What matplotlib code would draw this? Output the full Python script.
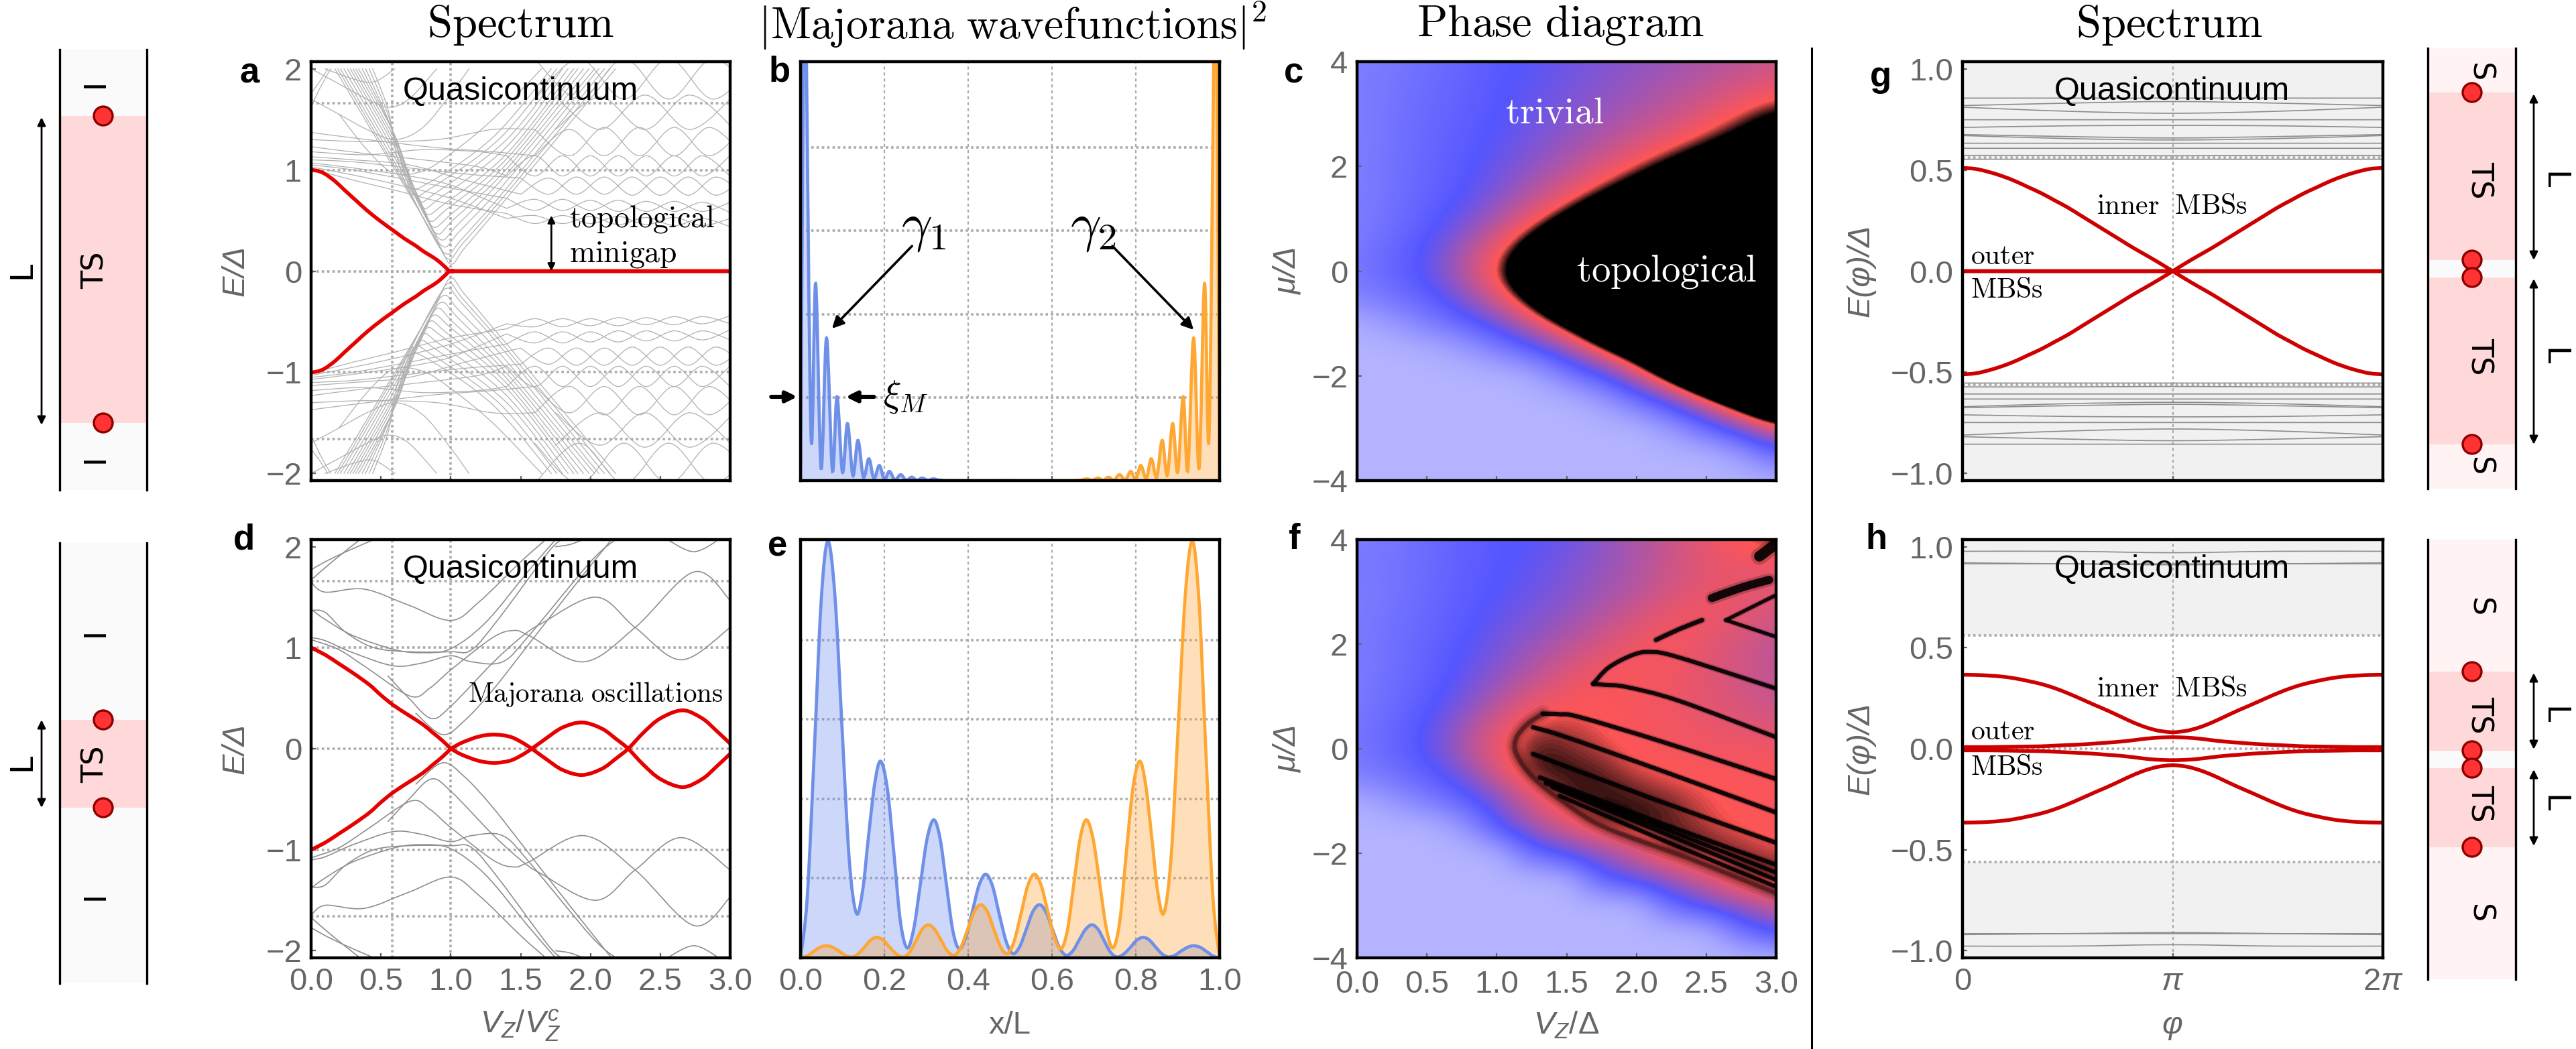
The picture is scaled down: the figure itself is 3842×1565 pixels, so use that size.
import numpy as np
import matplotlib
matplotlib.use('Agg')
import matplotlib.pyplot as plt
from matplotlib.colors import LinearSegmentedColormap
from matplotlib.patches import Rectangle, Circle, PathPatch
from matplotlib.path import Path

W, H = 3842, 1565
plt.rcParams['font.family'] = ['Liberation Sans', 'DejaVu Sans']
plt.rcParams['mathtext.fontset'] = 'custom'
plt.rcParams['mathtext.it'] = 'Liberation Sans:italic'
plt.rcParams['mathtext.rm'] = 'Liberation Sans'

# ---------- panel a (upper half, mirrored for E<0) ----------
a_red_V = [0, .05, .1, .17, .24, .32, .4, .5, .59, .67, .75, .81, .87, .92, .96, 1, 1.1, 2, 3]
a_red_E = [1, .99, .96, .89, .8, .70, .60, .49, .40, .32, .25, .19, .14, .09, .04, 0, 0, 0, 0]
a_fan = [
    [(.17, 2), (.6, 1.0), (.9, .3), (1, .07), (1.1, .23), (1.4, .72), (2.18, 2)],
    [(.19, 2), (.6, 1.03), (.88, .34), (.985, .12), (1.09, .28), (1.4, .77), (2.14, 2)],
    [(.21, 2), (.6, 1.07), (.85, .4), (.97, .17), (1.08, .32), (1.4, .82), (2.10, 2)],
    [(.235, 2), (.6, 1.12), (.84, .48), (.95, .24), (1.06, .39), (1.4, .89), (2.06, 2)],
    [(.26, 2), (.6, 1.17), (.82, .56), (.93, .31), (1.05, .46), (1.4, .96), (2.03, 2)],
    [(.28, 2), (.6, 1.22), (.8, .64), (.90, .37), (1.02, .51), (1.4, 1.01), (1.99, 2)],
    [(.30, 2), (.6, 1.26), (.77, .72), (.87, .44), (1.0, .56), (1.4, 1.06), (1.95, 2)],
    [(.32, 2), (.6, 1.3), (.75, .78), (.845, .5), (.97, .61), (1.4, 1.11), (1.91, 2)],
    [(.34, 2), (.6, 1.34), (.72, .85), (.82, .57), (.95, .66), (1.4, 1.16), (1.88, 2)],
    [(.365, 2), (.58, 1.4), (.7, .92), (.795, .63), (.92, .72), (1.4, 1.23), (1.84, 2)],
    [(.39, 2), (.55, 1.5), (.67, 1.0), (.77, .70), (.9, .78), (1.4, 1.3), (1.8, 2)],
    [(.415, 2), (.55, 1.55), (.65, 1.05), (.735, .76), (.87, .83), (1.35, 1.31), (1.76, 2)],
    [(.44, 2), (.55, 1.6), (.62, 1.1), (.70, .83), (.85, .88), (1.3, 1.32), (1.72, 2)],
    [(.2, 1.55), (.4, 1.2), (.59, .97), (.8, .99), (1.0, 1.16), (1.3, 1.5), (1.65, 2)],
    [(0, 1.7), (.2, 1.55), (.4, 1.4), (.6, 1.3), (.8, 1.42), (1.0, 1.75), (1.13, 2)],
    [(0, 2.0), (.2, 1.85), (.4, 1.7), (.55, 1.62), (.7, 1.7), (.9, 2.0)],
    [(.1, 2), (.3, 1.9), (.45, 1.87), (.6, 2.0)],
    [(0, 1.76), (.05, 1.85), (.12, 2.0)],
    [(0, 1.62), (.06, 1.8), (.14, 2.0)],
    [(0, 1.01), (.3, .9), (.6, .8), (1, .66), (1.4, .57)],
    [(0, 1.03), (.3, .95), (.6, .86), (1, .72), (1.4, .52)],
    [(0, 1.05), (.3, 1.0), (.7, .9), (1, .82), (1.4, .72)],
    [(0, 1.07), (.3, 1.02), (.7, .94), (1, .85), (1.4, .62)],
    [(0, 1.1), (.3, 1.08), (.7, 1.02), (1.1, .96), (1.5, .92)],
    [(0, 1.13), (.3, 1.1), (.7, 1.05), (1.1, .9), (1.5, .76)],
    [(0, 1.18), (.4, 1.15), (.8, 1.2), (1.2, 1.18), (1.4, 1.14)],
    [(0, 1.23), (.4, 1.16), (.8, 1.1), (1.2, 1.03), (1.4, .94)],
    [(0, 1.3), (.4, 1.28), (.9, 1.3), (1.3, 1.4), (1.6, 1.40)],
    [(0, 1.37), (.4, 1.3), (.9, 1.22), (1.3, 1.18), (1.6, 1.14)],
]
dx1 = [1.4, 1.6, 1.8, 2.0, 2.2, 2.4, 2.6, 2.8, 3.0]
dx2 = [1.5, 1.7, 1.9, 2.1, 2.3, 2.5, 2.7, 2.9, 3.1]
dx3 = [1.6, 1.85, 2.1, 2.35, 2.6, 2.85, 3.1]
dx4 = [1.75, 2.07, 2.39, 2.71, 3.03]
dx5 = [1.6, 1.92, 2.24, 2.56, 2.88, 3.2]
a_diamonds = [
    (dx1, [.57, .47, .55, .47, .54, .46, .53, .45, .52]),
    (dx1, [.52, .55, .47, .54, .46, .53, .45, .52, .44]),
    (dx1, [.72, .60, .71, .60, .70, .59, .69, .59, .68]),
    (dx1, [.62, .71, .60, .70, .59, .69, .59, .68, .58]),
    (dx2, [.92, .76, .93, .76, .93, .75, .93, .75, .93]),
    (dx2, [.76, .92, .76, .93, .75, .93, .75, .93, .75]),
    (dx1, [1.14, .94, 1.14, .94, 1.14, .94, 1.14, .94, 1.14]),
    (dx1, [.94, 1.14, .94, 1.14, .94, 1.14, .94, 1.14, .94]),
    (dx3, [1.40, 1.14, 1.42, 1.14, 1.42, 1.14, 1.42]),
    (dx3, [1.14, 1.40, 1.14, 1.42, 1.14, 1.42, 1.14]),
    (dx4, [1.72, 1.40, 1.74, 1.40, 1.74]),
    (dx4, [1.40, 1.72, 1.40, 1.74, 1.40]),
    (dx5, [2.1, 1.7, 2.1, 1.7, 2.1, 1.7]),
    (dx5, [1.7, 2.1, 1.7, 2.1, 1.7, 2.1]),
]

# ---------- panel d ----------
d_red_left_V = [0, .1, .2, .31, .42, .5, .59, .7, .8, .87, .94, 1]
d_red_left_E = [1, .93, .84, .74, .63, .53, .43, .33, .24, .16, .08, 0]
d_red_V = [1, 1.08, 1.2, 1.31, 1.42, 1.5, 1.58, 1.68, 1.8, 1.94, 2.08, 2.18, 2.27, 2.38, 2.5, 2.66, 2.8, 2.9, 3]
d_red_E = [0, .06, .12, .14, .12, .07, 0, -.1, -.21, -.26, -.2, -.1, 0, .16, .3, .38, .3, .18, .05]
d_gray = [
    [(0, 1.65), (.1, 1.55), (.38, 1.58), (.7, 1.42), (1.0, 1.27), (1.2, 1.45), (1.5, 1.85), (1.68, 2.07)],
    [(0, 1.38), (.1, 1.28), (.3, 1.12), (.6, .98), (.8, .95), (1.0, .99), (1.25, 1.25), (1.55, 1.75), (1.75, 2.07)],
    [(0, 1.37), (.1, 1.35), (.25, 1.15), (.45, 1.0), (.7, .96), (1.0, .96), (1.15, .98), (1.35, 1.3), (1.7, 1.95), (1.8, 2.07)],
    [(0, 1.1), (.1, 1.07), (.3, .95), (.59, .82), (.8, .85), (1, .92), (1.15, .86), (1.37, .86), (1.56, 1.12), (2.0, 1.85), (2.18, 2.07)],
    [(0, 1.08), (.2, .98), (.4, .8), (.71, .52), (.85, .6), (1, .78), (1.3, 1.1), (1.45, 1.17), (1.56, 1.12), (1.95, .86), (2.32, 1.2), (2.74, 1.75), (3, 1.47)],
    [(.55, .72), (.7, .5), (.86, .30), (1, .42), (1.3, .85), (1.5, 1.1), (1.65, 1.24), (2.04, 1.5), (2.32, 1.2), (2.65, .88), (3, 1.2)],
    [(.75, .35), (.94, .14), (1.1, .28), (1.3, .58), (1.55, 1.02), (1.85, 1.55), (2.15, 2.07)],
    [(0, 1.77), (.1, 1.85), (.25, 1.95), (.45, 2.07)],
    [(0, 1.67), (.15, 1.85), (.35, 2.07)],
    [(1.75, 2.0), (1.85, 2.02), (1.95, 2.07)],
    [(2.55, 2.07), (2.74, 1.95), (2.92, 2.07)],
]

# ---------- panels b, e ----------
b_x = [0, .008, .01, .012, .025, .036, .049, .062, .076, .087, .1, .112, .125, .137, .15, .163, .175, .188, .2, .212, .225,
       .239, .252, .265, .278, .29, .304, .318, .35, .5]
b_y = [0, 1.2, 1.4, 1.2, .108, .47, .03, .34, .024, .2, .02, .136, .012, .096, .008, .052, .005, .036, .003, .022, .002,
       .014, .001, .008, .001, .006, .001, .004, 0, 0]
e_x = [0, .016, .033, .049, .065, .082, .099, .116, .133, .148, .162, .177, .191, .207, .223, .238, .254, .27, .286, .302,
       .318, .333, .348, .363, .378, .394, .41, .426, .442, .458, .474, .491, .507, .523, .539, .554, .57, .586, .602, .618,
       .634, .65, .665, .68, .695, .71, .725, .74, .755, .771, .787, .802, .818, .833, .848, .863, .878, .893, .908, .923,
       .938, .954, .969, .985, 1]
e_y = [0, .145, .498, .85, .996, .866, .55, .237, .107, .16, .289, .417, .47, .405, .247, .089, .024, .069, .177, .285,
       .33, .285, .176, .067, .022, .048, .111, .174, .2, .172, .105, .038, .01, .027, .069, .11, .127, .109, .066, .024,
       .006, .017, .043, .068, .079, .068, .04, .013, .002, .009, .025, .042, .049, .042, .025, .009, .002, .006, .016, .025,
       .029, .025, .015, .004, 0]

# ---------- panels c, f: gap-like colour value on (mu, V_Z) grid ----------
hm_V = [0, .25, .5, .75, 1, 1.25, 1.5, 1.75, 2, 2.25, 2.5, 2.75, 3]
hm_mu = [4, 3.5, 3, 2.5, 2, 1.5, 1, .5, 0, -.5, -1, -1.5, -2, -2.5, -3, -3.5, -4]
c_val = [
    [.72, .68, .64, .59, .53, .49, .44, .39, .36, .32, .28, .24, .20],
    [.72, .67, .62, .57, .51, .47, .42, .37, .32, .27, .22, .17, .12],
    [.72, .66, .61, .56, .505, .45, .39, .33, .27, .21, .14, .06, -.02],
    [.72, .66, .6, .54, .485, .41, .335, .26, .185, .11, .03, -.05, -.13],
    [.72, .65, .59, .53, .45, .355, .26, .16, .06, -.04, -.14, -.24, -.34],
    [.72, .65, .58, .51, .39, .26, .14, .01, -.11, -.24, -.36, -.49, -.61],
    [.72, .64, .55, .44, .28, .11, -.05, -.22, -.38, -.55, -.71, -.88, -1.04],
    [.7, .6, .5, .31, .115, -.08, -.27, -.46, -.65, -.85, -1.04, -1.23, -1.42],
    [.68, .58, .46, .25, .03, -.18, -.37, -.58, -.79, -1, -1.2, -1.4, -1.6],
    [.74, .66, .56, .38, .14, -.09, -.33, -.56, -.8, -1, -1.2, -1.4, -1.6],
    [.97, .86, .72, .59, .42, .17, -.08, -.33, -.58, -.8, -1, -1.2, -1.4],
    [1, 1, .98, .90, .73, .56, .33, .03, -.22, -.5, -.8, -1, -1.2],
    [1, 1, 1, 1, 1, .96, .72, .53, .21, -.14, -.5, -.8, -1],
    [1, 1, 1, 1, 1, 1, 1, .9, .68, .44, .12, -.19, -.5],
    [1, 1, 1, 1, 1, 1, 1, 1, 1, .86, .62, .37, .10],
    [1, 1, 1, 1, 1, 1, 1, 1, 1, 1, 1, .88, .6],
    [1, 1, 1, 1, 1, 1, 1, 1, 1, 1, 1, 1, .98],
]
f_val = [
    [.72, .68, .62, .56, .52, .49, .44, .36, .28, .2, .12, .06, .02],
    [.68, .66, .62, .56, .51, .47, .41, .34, .27, .2, .14, .12, .12],
    [.72, .67, .61, .55, .5, .44, .38, .31, .25, .17, .12, .12, .15],
    [.7, .65, .6, .54, .46, .4, .33, .25, .17, .1, .1, .14, .18],
    [.7, .64, .58, .51, .42, .33, .25, .17, .1, .09, .13, .18, .24],
    [.7, .64, .57, .48, .37, .26, .16, .09, .08, .1, .14, .18, .24],
    [.7, .62, .55, .43, .28, .15, .09, .08, .09, .1, .14, .18, .22],
    [.68, .6, .5, .33, .16, .05, .05, .07, .09, .1, .12, .14, .17],
    [.68, .58, .47, .28, .09, .015, .03, .05, .08, .09, .1, .1, .1],
    [.72, .65, .56, .41, .17, .005, .01, .02, .05, .07, .08, .08, .08],
    [.97, .85, .71, .58, .4, .16, .02, .005, .015, .03, .06, .08, .08],
    [1, 1, 1, .88, .5, .3, .15, .02, .005, .02, .05, .07, .08],
    [1, 1, 1, 1, 1, .6, .45, .32, .18, .005, .01, .03, .06],
    [1, 1, 1, 1, 1, 1, 1, .55, .42, .3, .16, .005, .01],
    [1, 1, 1, 1, 1, 1, 1, 1, 1, .6, .42, .3, .18],
    [1, 1, 1, 1, 1, 1, 1, 1, 1, 1, 1, .65, .45],
    [1, 1, 1, 1, 1, 1, 1, 1, 1, 1, 1, 1, 1],
]
f_stripes = [
    ([1.69, 1.8, 1.97, 2.1, 2.3, 3.0], [1.24, 1.55, 1.79, 1.85, 1.75, 1.15], 2.3),
    ([1.69, 1.78, 1.93, 2.3, 3.0], [1.24, 1.22, 1.18, .92, .22], 2.3),
    ([1.33, 1.45, 1.6, 2.2, 3], [.67, .66, .60, .12, -.58], 2.4),
    ([1.26, 1.5, 2.2, 3], [.41, .22, -.44, -1.22], 2.4),
    ([1.26, 2.1, 3], [-.10, -.94, -1.80], 2.4),
    ([1.31, 2.15, 3], [-.55, -1.4, -2.22], 2.4),
    ([1.35, 2.2, 3], [-.66, -1.53, -2.37], 2.2),
    ([1.4, 2.2, 3], [-.74, -1.62, -2.51], 2.2),
    ([1.45, 2.2, 3], [-.9, -1.76, -2.64], 2.2),
    ([2.14, 2.3, 2.47], [2.08, 2.28, 2.46], 2.5),
    ([2.54, 2.75, 2.95], [2.88, 3.08, 3.23], 4.6),
    ([2.88, 2.95, 3.0], [3.68, 3.82, 3.93], 6),
    ([3, 2.64], [2.94, 2.46], 2),
    ([2.64, 3], [2.46, 2.14], 2),
]
f_head_V = [1.33, 1.22, 1.14, 1.14, 1.26, 1.5, 1.78, 2.4, 3]
f_head_mu = [.67, .47, .2, -.1, -.55, -1.06, -1.51, -2.12, -2.76]

# ---------- panels g, h ----------
phi_half = [0, .0625, .125, .1875, .25, .3125, .375, .4375, .5, .5625, .625, .6875, .75, .8125, .875, .9375, 1]
g_inner_half = [.51, .505, .49, .47, .445, .415, .385, .35, .315, .275, .235, .195, .155, .115, .078, .04, 0]
h_inner_half = [.366, .365, .362, .357, .348, .335, .32, .30, .275, .247, .218, .19, .16, .13, .105, .088, .081]
h_outer_half = [.008, .008, .008, .009, .01, .011, .012, .015, .018, .021, .025, .03, .035, .042, .05, .055, .057]
g_outer_half = [0] * 17
lev_frac = [0, .5, 1, 1.5, 2]
g_levels = [
    [.855, .855, .855, .855, .855], [.818, .83, .838, .83, .818], [.81, .79, .78, .79, .81],
    [.748, .748, .748, .748, .748], [.71, .718, .72, .718, .71], [.675, .665, .658, .665, .675],
    [.67, .655, .648, .655, .67], [.632, .632, .632, .632, .632], [.607, .607, .607, .607, .607],
    [.572, .572, .57, .572, .572], [.553, .553, .553, .553, .553],
]
h_levels = [[.977, .977, .97, .977, .977], [.92, .915, .91, .915, .92], [.915, .915, .915, .915, .915]]

GRAY = '#666666'
GRID = '#ababab'
fig = plt.figure(figsize=(W / 200, H / 200), dpi=200)


def cr_path(x, y, closed_base=False):
    """Smooth drawing style: a cubic curve through every given knot."""
    P = np.column_stack([x, y]).astype(float)
    Q = np.vstack([P[0], P, P[-1]])
    verts, codes = [P[0]], [Path.MOVETO]
    for i in range(1, len(P)):
        p0, p1, p2, p3 = Q[i - 1], Q[i], Q[i + 1], Q[i + 2]
        verts += [p1 + (p2 - p0) / 6, p2 - (p3 - p1) / 6, p2]
        codes += [Path.CURVE4] * 3
    if closed_base:
        verts += [(P[-1][0], 0), (P[0][0], 0), P[0]]
        codes += [Path.LINETO, Path.LINETO, Path.CLOSEPOLY]
    return Path(np.array(verts), codes)


def sline(ax, x, y, color, lw, zorder=3, alpha=None):
    ax.add_patch(PathPatch(cr_path(x, y), fill=False, edgecolor=color, lw=lw, zorder=zorder, alpha=alpha, capstyle='round'))


def mkax(x0, y0, x1, y1):
    ax = fig.add_axes([x0 / W, 1 - y1 / H, (x1 - x0) / W, (y1 - y0) / H])
    for s in ax.spines.values():
        s.set_linewidth(1.6)
        s.set_zorder(6)
    ax.tick_params(direction='in', length=2.5, width=.8, color=GRAY, labelcolor=GRAY, labelsize=17, pad=5)
    return ax


def hgrid(ax, ys):
    for y in ys:
        ax.axhline(y, color=GRID, lw=1.3, ls=(0, (1, 1.2)), zorder=1)


def vgrid(ax, xs, ls=(0, (1, 1.2)), lw=1.3):
    for x in xs:
        ax.axvline(x, color=GRID, lw=lw, ls=ls, zorder=1)


def ft(x, y, s, **kw):
    kw.setdefault('ha', 'center')
    kw.setdefault('va', 'center')
    return fig.text(x / W, 1 - y / H, s, **kw)


def cm(x, y, s, size, color='black', **kw):
    return ft(x, y, s, fontsize=size, color=color, math_fontfamily='cm', **kw)


# ---- a
ax = mkax(464, 92, 1089, 717)
for sgn in (1, -1):
    for c in a_fan:
        v, e = zip(*c)
        sline(ax, v, sgn * np.array(e), '#b0b0b0', .45, 2)
    for xs, ys in a_diamonds:
        sline(ax, xs, sgn * np.array(ys), '#b0b0b0', .45, 2)
    sline(ax, a_red_V, sgn * np.array(a_red_E), '#e60000', 2.0, 4)
hgrid(ax, [-1.66, -1, 0, 1, 1.66])
vgrid(ax, [.58, 1])
ax.set_xlim(0, 3)
ax.set_ylim(-2.07, 2.07)
ax.set_xticks([0, .5, 1, 1.5, 2, 2.5, 3])
ax.tick_params(labelbottom=False)
ax.set_yticks([-2, -1, 0, 1, 2])
ax.annotate('', xy=(1.72, 0), xytext=(1.72, .55), arrowprops=dict(arrowstyle='<|-|>', color='k', lw=1, shrinkA=0, shrinkB=0, mutation_scale=8), zorder=5)

# ---- d
ax = mkax(464, 805, 1089, 1429)
for sgn in (1, -1):
    for c in d_gray:
        v, e = zip(*c)
        sline(ax, v, sgn * np.array(e), '#8f8f8f', .6, 2)
    sline(ax, d_red_left_V, sgn * np.array(d_red_left_E), '#e60000', 2.0, 4)
    sline(ax, d_red_V, sgn * np.array(d_red_E), '#e60000', 2.0, 4)
hgrid(ax, [-1.66, -1, 0, 1, 1.66])
vgrid(ax, [.58, 1])
ax.set_xlim(0, 3)
ax.set_ylim(-2.07, 2.07)
ax.set_xticks([0, .5, 1, 1.5, 2, 2.5, 3])
ax.set_xticklabels(['0.0', '0.5', '1.0', '1.5', '2.0', '2.5', '3.0'])
ax.set_yticks([-2, -1, 0, 1, 2])

# ---- b, e
BLUE, ORANGE = '#6f90e8', '#ffa733'
for (box, xd, yd, grid) in (((1194, 92, 1819, 717), b_x, b_y, [.198, .396, .596, .795]),
                            ((1194, 805, 1819, 1429), e_x, e_y, [.19, .38, .57, .76])):
    ax = mkax(*box)
    xa, ya = np.array(xd), np.array(yd)
    hgrid(ax, grid)
    vgrid(ax, [.2, .4, .6, .8], ls=(0, (2, 2)), lw=.8)
    ax.add_patch(PathPatch(cr_path(xa, ya, True), fc='#6688ee', alpha=.33, lw=0, zorder=2))
    ax.add_patch(PathPatch(cr_path(1 - xa, ya, True), fc='#ffa030', alpha=.33, lw=0, zorder=2))
    sline(ax, xa, ya, BLUE, 1.7, 3)
    sline(ax, 1 - xa, ya, ORANGE, 1.7, 3)
    ax.set_xlim(0, 1)
    ax.set_ylim(0, 1)
    ax.set_yticks([])
    ax.set_xticks([0, .2, .4, .6, .8, 1])
    if box[1] == 92:
        ax.tick_params(labelbottom=False)
        bax = ax
    else:
        ax.set_xticklabels(['0.0', '0.2', '0.4', '0.6', '0.8', '1.0'])
arrow = dict(arrowstyle='-|>', color='k', lw=1.3, shrinkA=0, shrinkB=0, mutation_scale=13)
bax.annotate('', xy=(.075, .363), xytext=(.266, .56), arrowprops=arrow)
bax.annotate('', xy=(.938, .36), xytext=(.744, .56), arrowprops=arrow)
thick = dict(arrowstyle='-|>', color='k', lw=2.2, shrinkA=0, shrinkB=0, mutation_scale=12)
bax.annotate('', xy=(-.008, .2), xytext=(-.07, .2), arrowprops=thick, annotation_clip=False)
bax.annotate('', xy=(.108, .2), xytext=(.175, .2), arrowprops=thick)

# ---- c, f
cmap = LinearSegmentedColormap.from_list('gap', [(0, '#000000'), (.065, '#ff5555'), (.5, '#5555ff'), (1, '#b3b3ff')])
for box, vals, stripes in (((2024, 92, 2649, 717), c_val, None), ((2024, 805, 2649, 1429), f_val, f_stripes)):
    ax = mkax(*box)
    ax.imshow(np.array(vals), extent=(hm_V[0] - .125, hm_V[-1] + .125, hm_mu[-1] - .25, hm_mu[0] + .25), aspect='auto',
              cmap=cmap, vmin=0, vmax=1, interpolation='bicubic', interpolation_stage='data')
    if stripes:
        for xs, ys, lw in stripes:
            sline(ax, xs, ys, 'k', lw * 1.5, 3, .2)
            sline(ax, xs, ys, 'k', lw * .95, 3, .9)
        for m, a in ((9, .1), (6, .15), (3.5, .25), (2, .35)):
            sline(ax, f_head_V, f_head_mu, 'k', m, 3, a)
    ax.set_xlim(0, 3)
    ax.set_ylim(-4, 4)
    ax.set_xticks([0, .5, 1, 1.5, 2, 2.5, 3])
    ax.set_yticks([-4, -2, 0, 2, 4])
    ax.tick_params(axis='x', pad=6.5)
    if stripes:
        ax.set_xticklabels(['0.0', '0.5', '1.0', '1.5', '2.0', '2.5', '3.0'])
    else:
        ax.tick_params(labelbottom=False)

# ---- g, h
RED2 = '#cc0000'
for box, inner, outer, levels, is_g in (((2927, 92, 3554, 717), g_inner_half, g_outer_half, g_levels, True),
                                        ((2927, 805, 3554, 1429), h_inner_half, h_outer_half, h_levels, False)):
    ax = mkax(*box)
    ph = np.array(phi_half) * np.pi
    ax.axhspan(.56, 1.04, color='#f1f1f1', lw=0, zorder=0)
    ax.axhspan(-1.04, -.56, color='#f1f1f1', lw=0, zorder=0)
    hgrid(ax, [-.56, .56] + ([0] if not is_g else []))
    vgrid(ax, [np.pi], ls=(0, (2, 2)), lw=.8)
    for row in levels:
        sline(ax, np.array(lev_frac) * np.pi, row, '#8c8c8c', .6, 2)
        sline(ax, np.array(lev_frac) * np.pi, -np.array(row), '#8c8c8c', .6, 2)
    for s in (1, -1):
        for d in (inner, outer):
            sline(ax, ph, s * np.array(d), RED2, 2.0, 4)
            sline(ax, 2 * np.pi - ph, s * np.array(d), RED2, 2.0, 4)
    ax.set_xlim(0, 2 * np.pi)
    ax.set_ylim(-1.035, 1.035)
    ax.set_yticks([-1, -.5, 0, .5, 1])
    ax.set_yticklabels(['\u22121.0', '\u22120.5', '0.0', '0.5', '1.0'])
    ax.set_xticks([0, np.pi, 2 * np.pi])
    if is_g:
        ax.tick_params(labelbottom=False)
    else:
        ax.set_xticklabels(['0', '$\\pi$', '$2\\pi$'])

# ---- titles & text
cm(776, 38, r'$\mathrm{Spectrum}$', 24)
cm(1510, 38, r'$\mathrm{|Majorana\ wavefunctions|^2}$', 23.6)
cm(2327, 38, r'$\mathrm{Phase\ diagram}$', 24)
cm(3235, 38, r'$\mathrm{Spectrum}$', 24)
for px, py in ((776, 137), (776, 850), (3239, 137), (3239, 850)):
    ft(px, py, 'Quasicontinuum', fontsize=17.5, color='k')
cm(849, 327, r'$\mathrm{topological}$', 16.5, ha='left')
cm(849, 380, r'$\mathrm{minigap}$', 16.5, ha='left')
cm(698, 1036, r'$\mathrm{Majorana\ oscillations}$', 14.8, ha='left')
cm(1378, 340, r'$\gamma_1$', 29)
cm(1630, 340, r'$\gamma_2$', 29)
cm(1350, 592, r'$\xi_M$', 20)
cm(2319, 169, r'$\mathrm{trivial}$', 20, color='white')
cm(2486, 405, r'$\mathrm{topological}$', 20.5, color='white')
for yi, yo, ym in ((308, 383, 433), (1028, 1092, 1145)):
    cm(3239, yi, r'$\mathrm{inner\ \ MBSs}$', 15)
    cm(2939, yo, r'$\mathrm{outer}$', 15, ha='left')
    cm(2939, ym, r'$\mathrm{MBSs}$', 15, ha='left')

for x, y, s in ((372, 110, 'a'), (1163, 108, 'b'), (1930, 110, 'c'), (364, 805, 'd'), (1160, 815, 'e'),
                (1930, 805, 'f'), (2805, 115, 'g'), (2798, 805, 'h')):
    ft(x, y, s, fontsize=19, fontweight='bold', color='k')

lab = dict(fontsize=17, color=GRAY)
for y in (404, 1117):
    ft(352, y, 'E/\u0394', rotation=90, style='italic', **lab)
    ft(1921, y, '\u03bc/\u0394', rotation=90, style='italic', **lab)
ft(2776, 404, 'E(\u03c6)/\u0394', rotation=90, style='italic', **lab)
ft(2776, 1117, 'E(\u03c6)/\u0394', rotation=90, style='italic', **lab)
ft(776, 1530, r'$V_Z/V_Z^c$', **lab)
ft(1506, 1530, 'x/L', **lab)
ft(2336, 1530, r'$V_Z/\Delta$', **lab)
ft(3240, 1530, '\u03c6', style='italic', **lab)

# ---- schematics + separator (pixel overlay)
ov = fig.add_axes([0, 0, 1, 1], zorder=10)
ov.set_xlim(0, W)
ov.set_ylim(H, 0)
ov.axis('off')
ov.patch.set_alpha(0)
ov.plot([2702, 2702], [72, 1565], color='k', lw=1.1)


def schem(x0, x1, y0, y1, bg, pinks, gaps, dots, dx):
    ov.add_patch(Rectangle((x0, y0), x1 - x0, y1 - y0, color=bg, lw=0))
    for a, b in pinks:
        ov.add_patch(Rectangle((x0, a), x1 - x0, b - a, color='#ffd9d9', lw=0))
    for a, b in gaps:
        ov.add_patch(Rectangle((x0, a), x1 - x0, b - a, color='#fafafa', lw=0))
    for x in (x0, x1):
        ov.plot([x, x], [y0, y1], color='k', lw=1.2)
    for d in dots:
        ov.add_patch(Circle((dx, d), 14, fc='#ff3333', ec='#8b0000', lw=1.2, zorder=5))


def arrowv(x, a, b):
    ov.annotate('', xy=(x, a), xytext=(x, b), arrowprops=dict(arrowstyle='<|-|>', color='k', lw=1, shrinkA=0, shrinkB=0, mutation_scale=9))


def stxt(x, y, s, rot, size=16):
    ov.text(x, y, s, rotation=rot, ha='center', va='center', fontsize=size, family='DejaVu Sans', color='k')


schem(89, 219, 74, 731, '#fafafa', [(173, 631)], [], [173, 631], 154)
stxt(142, 403, 'TS', 90)
stxt(142, 124, 'I', 90)
stxt(142, 684, 'I', 90)
stxt(33, 403, 'L', 90, 17)
arrowv(62, 175, 634)
schem(89, 219, 810, 1467, '#fafafa', [(1074, 1205)], [], [1074, 1205], 154)
stxt(142, 1140, 'TS', 90)
stxt(142, 943, 'I', 90)
stxt(142, 1336, 'I', 90)
stxt(33, 1137, 'L', 90, 17)
arrowv(62, 1074, 1205)
schem(3621, 3752, 72, 729, '#fff3f3', [(138, 388), (414, 663)], [(388, 414)], [138, 388, 414, 663], 3687)
for y in (107, 695):
    stxt(3698, y, 'S', -90)
for y in (269, 532):
    stxt(3698, y, 'TS', -90)
    stxt(3808, y, 'L', -90, 17)
arrowv(3779, 140, 388)
arrowv(3779, 416, 663)
schem(3621, 3752, 805, 1461, '#fff3f3', [(1002, 1120), (1146, 1264)], [(1120, 1146)], [1002, 1120, 1146, 1264], 3687)
for y in (905, 1362):
    stxt(3698, y, 'S', -90)
for y in (1067, 1199):
    stxt(3698, y, 'TS', -90)
    stxt(3808, y, 'L', -90, 17)
arrowv(3779, 1004, 1118)
arrowv(3779, 1148, 1262)

fig.savefig('out.png', dpi=200)
